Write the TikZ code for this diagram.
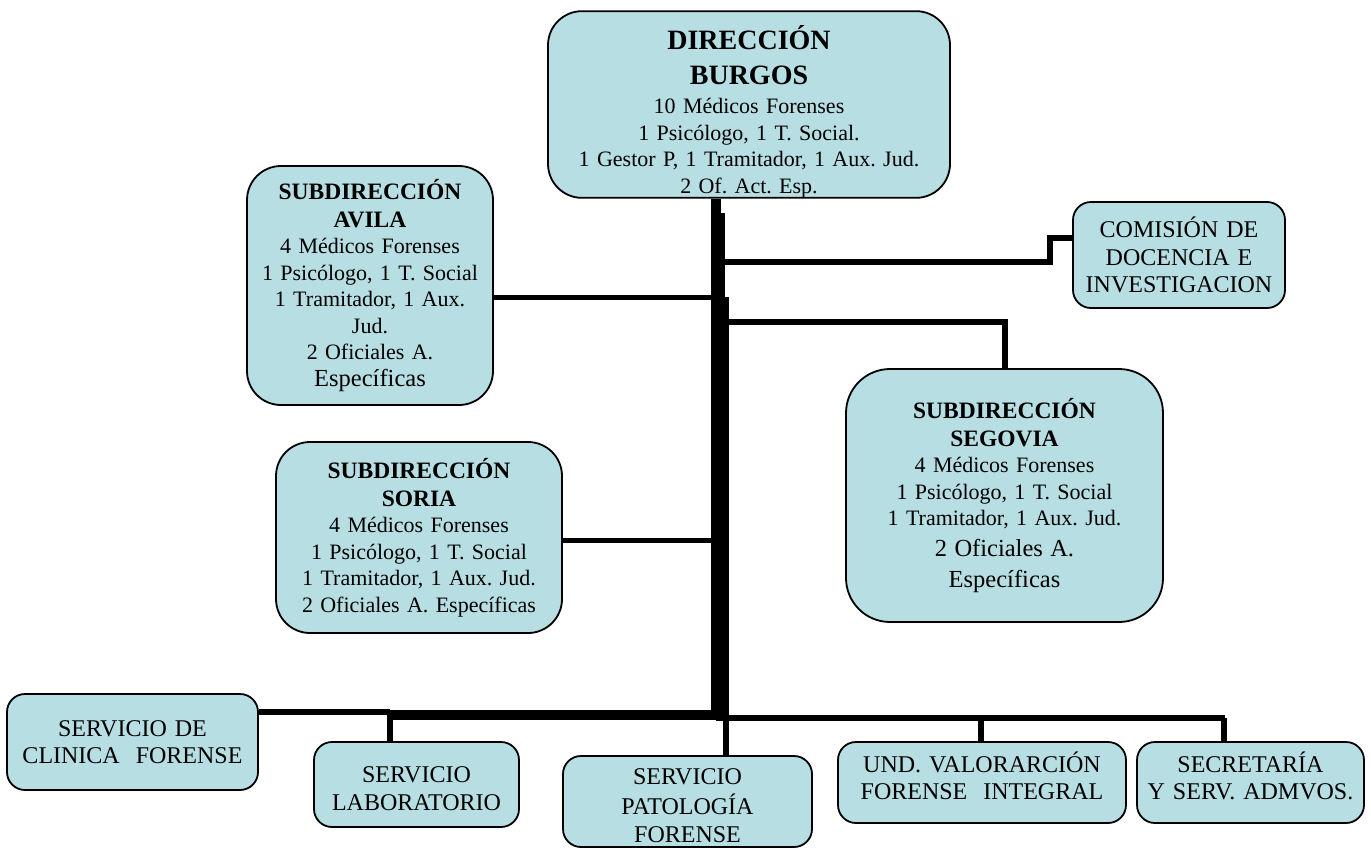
\documentclass[tikz,border=0pt]{standalone}
\usepackage{fontspec}
\setmainfont{Liberation Serif}
\frenchspacing
\definecolor{boxfill}{RGB}{183,222,227}

\begin{document}
\begin{tikzpicture}[x=1pt,y=-1pt,
	box/.style={draw=black,line width=1.8,fill=boxfill,rounded corners=#1,inner sep=0pt,align=center},
	box/.default=34,
	link/.style={line width=#1,line cap=butt},
	link/.default=6,
	body/.style={font=\fontsize{22}{26.5}\selectfont},
	serv/.style={font=\fontsize{24}{27.5}\selectfont}]
\useasboundingbox (0,0) rectangle (1371,849);

% direccion y subdirecciones
\node[box,body,minimum width=402,minimum height=185,text width=396,text height=38pt] (burgos) at (749,104.5)
	{{\fontsize{28}{35}\selectfont\bfseries DIRECCIÓN\\BURGOS\par}\vspace{3pt}
	10 Médicos Forenses\\1 Psicólogo, 1 T. Social.\\1 Gestor P, 1 Tramitador, 1 Aux. Jud.\\2 Of. Act. Esp.};
\node[box,body,minimum width=246,minimum height=239,text width=244] (avila) at (370,285.5)
	{{\fontsize{23.5}{28}\selectfont\bfseries SUBDIRECCIÓN\\AVILA\par}
	4 Médicos Forenses\\1 Psicólogo, 1 T. Social\\1 Tramitador, 1 Aux.\\Jud.\\2 Oficiales A.\par
	{\fontsize{24.5}{27}\selectfont Específicas\par}};
\node[box,body,minimum width=286,minimum height=191,text width=282] (soria) at (419,537.5)
	{{\fontsize{23.5}{28}\selectfont\bfseries SUBDIRECCIÓN\\SORIA\par}
	4 Médicos Forenses\\1 Psicólogo, 1 T. Social\\1 Tramitador, 1 Aux. Jud.\\2 Oficiales A. Específicas};
\node[box=44,body,minimum width=317,minimum height=253,text width=312] (segovia) at (1004.5,495.5)
	{{\fontsize{23.5}{28}\selectfont\bfseries SUBDIRECCIÓN\\SEGOVIA\par}
	4 Médicos Forenses\\1 Psicólogo, 1 T. Social\\1 Tramitador, 1 Aux. Jud.\par
	{\fontsize{24.5}{31}\selectfont 2 Oficiales A.\\Específicas\par}};
\node[box=18,serv,minimum width=212,minimum height=106,text width=210] (comision) at (1179,255)
	{COMISIÓN DE\\DOCENCIA E\\INVESTIGACION};

% servicios
\node[box=18,serv,minimum width=251,minimum height=96,text width=248] (clinica) at (132.5,742)
	{SERVICIO DE\\CLINICA\ \ FORENSE};
\node[box=18,serv,minimum width=205,minimum height=85,text width=202,text height=24pt] (lab) at (416.5,784.5)
	{SERVICIO\\LABORATORIO};
\node[box=18,serv,minimum width=249,minimum height=91,text width=246,text height=24pt] (patol) at (687.5,801.5)
	{\fontsize{24}{30}\selectfont SERVICIO\\PATOLOGÍA\\FORENSE};
\node[box=18,serv,minimum width=288,minimum height=81,text width=286,text height=7.5pt] (und) at (982,782.5)
	{UND. VALORARCIÓN\\FORENSE\ \ INTEGRAL};
\node[box=18,serv,minimum width=227,minimum height=81,text width=225,text height=7.5pt] (secre) at (1250.5,782.5)
	{SECRETARÍA\\Y SERV. ADMVOS.};

% tronco
\coordinate (tk) at (716,720);
\draw[link=10] (burgos.south -| tk) -- (tk);
\draw[link=14] (718,213) -- (718,720);
\draw[link=18] (720,297) -- (720,720);

\draw[link] (721,262) -| (1050,238) -- (comision.west |- 0,238);
\draw[link=5] (avila.east |- 0,297) -- (716,297);
\draw[link] (725,322) -| (segovia.north);
\draw[link=5] (soria.east |- 0,540) -- (716,540);

% barra inferior
\draw[link] (clinica.east |- 0,712) -- (390,712);
\draw[link=10] (387,715) -- (716,715);
\draw[link] (390,715) -- (lab.north -| 390,0);
\draw[link] (716,718) -- (1225,718);
\draw[link] (726,718) -- (patol.north -| 726,0);
\draw[link] (981,718) -- (und.north -| 981,0);
\draw[link] (1224,718) -- (secre.north -| 1224,0);
\end{tikzpicture}
\end{document}
